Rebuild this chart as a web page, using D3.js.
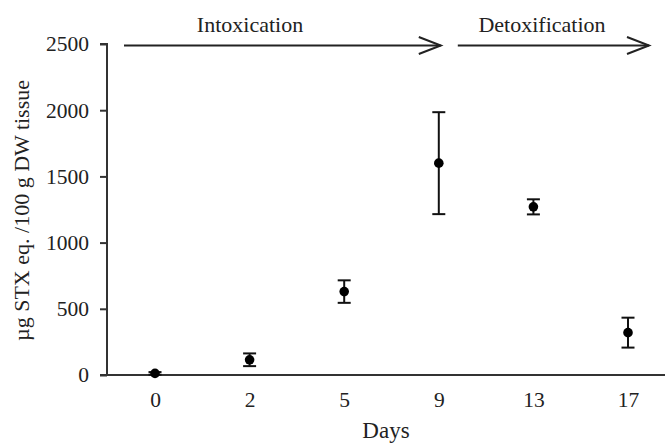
<!DOCTYPE html>
<html>
<head>
<meta charset="utf-8">
<script src="https://cdn.jsdelivr.net/npm/d3@7/dist/d3.min.js"></script>
<style>
  html, body { margin: 0; padding: 0; background: #fff; }
  svg { display: block; }
  text { font-family: "Liberation Serif", "Times New Roman", serif; fill: #222; }
</style>
</head>
<body>
<svg id="chart" width="665" height="443"></svg>
<script>
// ---- data ----
const days = ["0", "2", "5", "9", "13", "17"];
const means = [12, 115, 630, 1600, 1270, 320];
const errors = [10, 48, 85, 385, 57, 113];
const yTicks = [0, 500, 1000, 1500, 2000, 2500];
const phases = ["Intoxication", "Detoxification"];
const yTitle = "µg STX eq. /100 g DW tissue";
const xTitle = "Days";

// ---- layout ----
const W = 665, H = 443;
const axisX = 107, axisY = 375;
const svg = d3.select("#chart");

const x = d3.scalePoint().domain(days).range([155, 628]);
const y = d3.scaleLinear().domain([0, 2500]).range([axisY, 44]);

const ink = "#333";

// y axis
const yAxis = svg.append("g")
  .attr("transform", `translate(${axisX},0)`)
  .call(d3.axisLeft(y).tickValues(yTicks).tickSize(7).tickPadding(11).tickFormat(d3.format("d")));
yAxis.select(".domain").attr("stroke", ink).attr("stroke-width", 2).attr("d", `M-7,${y(2500)}H0V${axisY}`);
yAxis.selectAll(".tick line").attr("stroke", ink).attr("stroke-width", 2);
yAxis.selectAll(".tick text").attr("font-size", 21.5).attr("font-family", "Liberation Serif").attr("fill", "#222");

// x axis
const xAxis = svg.append("g")
  .attr("transform", `translate(0,${axisY})`)
  .call(d3.axisBottom(x).tickSize(0).tickPadding(0));
xAxis.select(".domain").attr("stroke", ink).attr("stroke-width", 2).attr("d", `M${axisX - 7},0H${W}`);
xAxis.selectAll(".tick text")
  .attr("font-size", 21.5).attr("font-family", "Liberation Serif").attr("fill", "#222")
  .attr("y", 32).attr("dy", null);

// axis titles
svg.append("text")
  .attr("x", 386).attr("y", 438)
  .attr("text-anchor", "middle").attr("font-size", 23)
  .text(xTitle);
svg.append("text")
  .attr("transform", `translate(29,${(y(0) + y(2500)) / 2 + 1}) rotate(-90)`)
  .attr("text-anchor", "middle").attr("font-size", 22)
  .text(yTitle);

// error bars
const capW = 6.5;
const eb = svg.append("g").attr("stroke", "#111").attr("stroke-width", 2);
days.forEach((d, i) => {
  const cx = x(d);
  const lo = Math.max(0, means[i] - errors[i]);
  const hi = means[i] + errors[i];
  eb.append("line").attr("x1", cx).attr("x2", cx).attr("y1", y(lo)).attr("y2", y(hi));
  eb.append("line").attr("x1", cx - capW).attr("x2", cx + capW).attr("y1", y(hi)).attr("y2", y(hi));
  eb.append("line").attr("x1", cx - capW).attr("x2", cx + capW).attr("y1", y(lo)).attr("y2", y(lo));
});

// points
svg.append("g").selectAll("circle")
  .data(days)
  .join("circle")
  .attr("cx", d => x(d))
  .attr("cy", (d, i) => y(means[i]))
  .attr("r", 4.8)
  .attr("fill", "#000");

// phase arrows
const ay = y(2500) + 1.5;
const arrows = [
  { label: phases[0], x1: 124, x2: x("9") + 2, tx: 250 },
  { label: phases[1], x1: x("9") + 19, x2: 649, tx: 542 }
];
const ag = svg.append("g").attr("stroke", "#222").attr("stroke-width", 2).attr("fill", "none");
arrows.forEach(a => {
  ag.append("line").attr("x1", a.x1).attr("x2", a.x2).attr("y1", ay).attr("y2", ay);
  ag.append("path").attr("d", `M${a.x2 - 22},${ay - 8.5}L${a.x2},${ay}L${a.x2 - 22},${ay + 8.5}`);
  svg.append("text").attr("x", a.tx).attr("y", 32)
    .attr("text-anchor", "middle").attr("font-size", 22)
    .text(a.label);
});
</script>
</body>
</html>
